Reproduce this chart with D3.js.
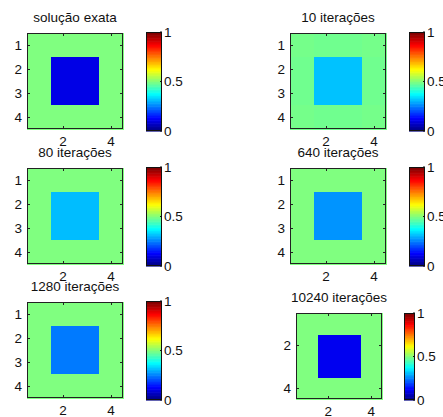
<!DOCTYPE html>
<html>
<head>
<meta charset="utf-8">
<script src="https://cdn.jsdelivr.net/npm/d3@7"></script>
<style>
    body { margin: 0; background: white; }
    text { font-family: "Liberation Sans", Arial, sans-serif; font-size: 13.5px; fill: #111; }
</style>
</head>
<body>
<div id="chart"></div>
<script>

// panel titles
let titles = ["solução exata", "10 iterações", "80 iterações", "640 iterações", "1280 iterações", "10240 iterações"];

// cell values, one 4x4 grid per panel (row by row)
let gridExact = [
    [0.5, 0.5, 0.5, 0.5],
    [0.5, 0.1, 0.1, 0.5],
    [0.5, 0.1, 0.1, 0.5],
    [0.5, 0.5, 0.5, 0.5]
];
let grid10 = [
    [0.49, 0.485, 0.485, 0.49],
    [0.485, 0.315, 0.315, 0.485],
    [0.485, 0.315, 0.315, 0.485],
    [0.49, 0.485, 0.485, 0.49]
];
let grid80 = [
    [0.5, 0.5, 0.5, 0.5],
    [0.5, 0.31, 0.31, 0.5],
    [0.5, 0.31, 0.31, 0.5],
    [0.5, 0.5, 0.5, 0.5]
];
let grid640 = [
    [0.5, 0.5, 0.5, 0.5],
    [0.5, 0.27, 0.27, 0.5],
    [0.5, 0.27, 0.27, 0.5],
    [0.5, 0.5, 0.5, 0.5]
];
let grid1280 = [
    [0.5, 0.5, 0.5, 0.5],
    [0.5, 0.245, 0.245, 0.5],
    [0.5, 0.245, 0.245, 0.5],
    [0.5, 0.5, 0.5, 0.5]
];
let grid10240 = [
    [0.5, 0.5, 0.5, 0.5],
    [0.5, 0.11, 0.11, 0.5],
    [0.5, 0.11, 0.11, 0.5],
    [0.5, 0.5, 0.5, 0.5]
];
let grids = [gridExact, grid10, grid80, grid640, grid1280, grid10240];

// axis ticks
let xTicks = [2, 4];
let yTicksFull = [1, 2, 3, 4];
let yTicksShort = [2, 4];
let cbTicks = [0, 0.5, 1];
let cbTickLabels = ["0", "0.5", "1"];

// matlab jet colormap
function jet(v) {
    let c = t => Math.round(255 * Math.max(0, Math.min(1, t)));
    return d3.rgb(c(1.5 - Math.abs(4 * v - 3)), c(1.5 - Math.abs(4 * v - 2)), c(1.5 - Math.abs(4 * v - 1)));
}

let svg = d3.select("#chart").append("svg")
    .attr("width", 443)
    .attr("height", 417);


/* * * * * * * * * * * * * *
*       heatmap panel      *
* * * * * * * * * * * * * */

class HeatmapVis {

    constructor(svg, grid, title, layout) {
        this.svg = svg;
        this.grid = grid;
        this.title = title;
        this.layout = layout;

        this.initVis();
    }

    initVis() {
        let vis = this;
        let L = vis.layout;

        vis.g = vis.svg.append("g")
            .attr("transform", `translate(${L.left}, ${L.top})`);

        // scales: cell centres at 1..4
        vis.x = d3.scaleLinear().domain([0.5, 4.5]).range([0, L.size]);
        vis.y = d3.scaleLinear().domain([0.5, 4.5]).range([0, L.size]);

        // flatten grid into cells
        vis.cells = [];
        vis.grid.forEach((row, i) => {
            row.forEach((v, j) => {
                vis.cells.push({row: i + 1, col: j + 1, value: v});
            });
        });

        vis.updateVis();
    }

    updateVis() {
        let vis = this;
        let L = vis.layout;

        // image cells
        vis.g.selectAll(".cell").data(vis.cells)
            .enter()
            .append("rect")
            .attr("class", "cell")
            .attr("x", d => vis.x(d.col - 0.5))
            .attr("y", d => vis.y(d.row - 0.5))
            .attr("width", d => vis.x(d.col + 0.5) - vis.x(d.col - 0.5) + 0.5)
            .attr("height", d => vis.y(d.row + 0.5) - vis.y(d.row - 0.5) + 0.5)
            .attr("fill", d => jet(d.value))
            .attr("shape-rendering", "crispEdges");

        // box
        vis.g.append("rect")
            .attr("x", 0.5).attr("y", 0.5)
            .attr("width", L.size - 1).attr("height", L.size - 1)
            .attr("fill", "none")
            .attr("stroke", "#222")
            .attr("stroke-width", 1);

        // inward ticks on all sides
        let tl = 3;
        xTicks.forEach(t => {
            let xp = Math.round(vis.x(t)) + 0.5;
            vis.g.append("line").attr("x1", xp).attr("x2", xp).attr("y1", L.size).attr("y2", L.size - tl)
                .attr("stroke", "#222");
            vis.g.append("line").attr("x1", xp).attr("x2", xp).attr("y1", 0).attr("y2", tl)
                .attr("stroke", "#222");
            vis.g.append("text")
                .attr("x", vis.x(t))
                .attr("y", L.size + 17)
                .attr("text-anchor", "middle")
                .text(t);
        });

        L.yTicks.forEach(t => {
            let yp = Math.round(vis.y(t)) + 0.5;
            vis.g.append("line").attr("x1", 0).attr("x2", tl).attr("y1", yp).attr("y2", yp)
                .attr("stroke", "#222");
            vis.g.append("line").attr("x1", L.size).attr("x2", L.size - tl).attr("y1", yp).attr("y2", yp)
                .attr("stroke", "#222");
            vis.g.append("text")
                .attr("x", -5)
                .attr("y", vis.y(t))
                .attr("dy", "0.36em")
                .attr("text-anchor", "end")
                .text(t);
        });

        // title
        vis.g.append("text")
            .attr("x", L.size / 2)
            .attr("y", -11)
            .attr("text-anchor", "middle")
            .text(vis.title);

        // colorbar
        let cbTop = L.cbTop - L.top;
        let cbBottom = L.cbBottom - L.top;
        let cbX = L.cbX - L.left;
        let cy = d3.scaleLinear().domain([0, 1]).range([cbBottom, cbTop]);
        let levels = d3.range(64).map(k => k / 63);
        let step = (cbBottom - cbTop) / 64;

        vis.g.selectAll(".cb-level").data(levels)
            .enter()
            .append("rect")
            .attr("class", "cb-level")
            .attr("x", cbX)
            .attr("y", (d, k) => cbBottom - (k + 1) * step)
            .attr("width", L.cbW)
            .attr("height", step + 0.6)
            .attr("fill", d => jet(d));

        vis.g.append("rect")
            .attr("x", cbX + 0.5).attr("y", cbTop + 0.5)
            .attr("width", L.cbW - 1).attr("height", cbBottom - cbTop - 1)
            .attr("fill", "none")
            .attr("stroke", "#111");

        cbTicks.forEach((t, k) => {
            vis.g.append("line")
                .attr("x1", cbX + L.cbW - 2).attr("x2", cbX + L.cbW)
                .attr("y1", cy(t)).attr("y2", cy(t))
                .attr("stroke", "#111");
            vis.g.append("text")
                .attr("x", cbX + L.cbW + 2)
                .attr("y", cy(t))
                .attr("dy", "0.36em")
                .text(cbTickLabels[k]);
        });
    }
}

// panel placement
let layouts = [
    {left: 27, top: 33, size: 96, cbX: 146, cbW: 16, cbTop: 32, cbBottom: 131, yTicks: yTicksFull},
    {left: 290, top: 33, size: 96, cbX: 409, cbW: 16, cbTop: 32, cbBottom: 131, yTicks: yTicksFull},
    {left: 27, top: 168, size: 96, cbX: 146, cbW: 16, cbTop: 167, cbBottom: 266, yTicks: yTicksFull},
    {left: 290, top: 168, size: 96, cbX: 409, cbW: 16, cbTop: 167, cbBottom: 266, yTicks: yTicksFull},
    {left: 27, top: 302, size: 96, cbX: 146, cbW: 16, cbTop: 301, cbBottom: 400, yTicks: yTicksFull},
    {left: 296, top: 313, size: 86, cbX: 404, cbW: 11, cbTop: 313, cbBottom: 400, yTicks: yTicksShort}
];

grids.forEach((grid, i) => {
    new HeatmapVis(svg, grid, titles[i], layouts[i]);
});

</script>
</body>
</html>
